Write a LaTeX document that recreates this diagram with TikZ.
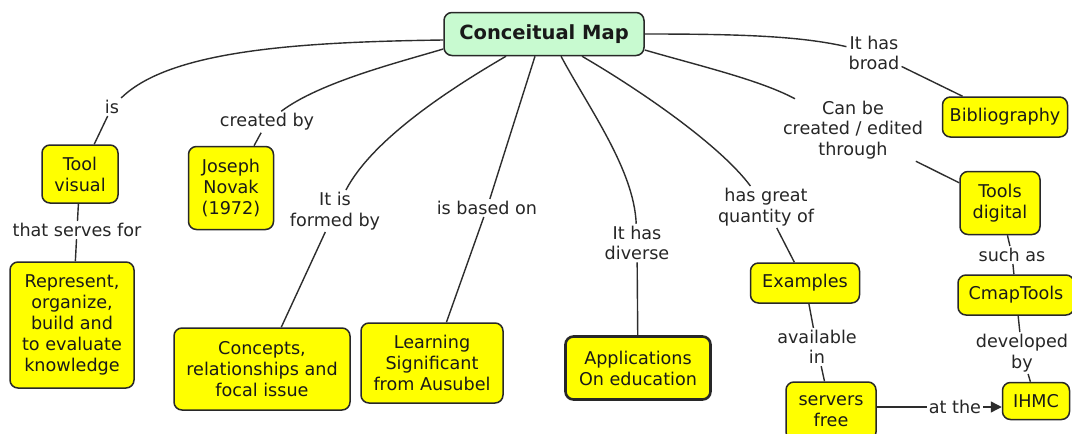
\documentclass[tikz,border=0pt]{standalone}
\usepackage{fontspec}
\setmainfont{DejaVu Sans}
\usetikzlibrary{arrows.meta}
\definecolor{conceptyellow}{RGB}{255,255,0}
\definecolor{rootgreen}{RGB}{200,250,208}
\definecolor{inkgray}{RGB}{40,40,40}
\definecolor{wiregray}{RGB}{45,45,45}

\begin{document}
\begin{tikzpicture}[x=1pt,y=1pt,
  concept/.style={draw=inkgray, line width=1.5pt, rounded corners=8pt, fill=conceptyellow,
    align=center, font=\fontsize{17.6}{21}\selectfont, text=black!90, inner sep=0pt},
  rootbox/.style={concept, fill=rootgreen, font=\fontsize{19.5}{22}\selectfont\bfseries},
  linkword/.style={align=center, font=\fontsize{17.6}{20.5}\selectfont, text=black!85, inner sep=2pt},
  wire/.style={draw=wiregray, line width=1.4pt},
]
\useasboundingbox (0,0) rectangle (1072,-434);
\fill[white] (0,0) rectangle (1072,-434);

% concepts
\node[rootbox, minimum width=200, minimum height=43] (main) at (544,-34) {Conceitual Map};
\node[concept, minimum width=76, minimum height=58] (tool) at (80,-174) {Tool\\visual};
\node[concept, minimum width=85, minimum height=83] (novak) at (231,-188) {Joseph\\Novak\\(1972)};
\node[concept, minimum width=124, minimum height=126] (represent) at (72,-325) {Represent,\\organize,\\build and\\to evaluate\\knowledge};
\node[concept, minimum width=176, minimum height=82] (concepts) at (262,-369) {Concepts,\\relationships and\\focal issue};
\node[concept, minimum width=142, minimum height=80] (ausubel) at (432,-363) {Learning\\Significant\\from Ausubel};
\node[concept, line width=2.6pt, minimum width=145, minimum height=63] (apps) at (638,-368) {Applications\\On education};
\node[concept, minimum width=109, minimum height=40] (examples) at (805,-283) {Examples};
\node[concept, minimum width=90, minimum height=58] (servers) at (831,-411) {servers\\free};
\node[concept, minimum width=67, minimum height=37] (ihmc) at (1036,-401) {IHMC};
\node[concept, minimum width=116, minimum height=40] (cmap) at (1016,-295) {CmapTools};
\node[concept, minimum width=80, minimum height=63] (digital) at (1000,-203) {Tools\\digital};
\node[concept, minimum width=125, minimum height=40] (biblio) at (1005,-117) {Bibliography};

% linking phrases
\node[linkword] (lIs) at (112,-107) {is};
\node[linkword] (lCreated) at (267,-122) {created by};
\node[linkword] (lFormed) at (335,-211) {It is\\formed by};
\node[linkword] (lBased) at (487,-208) {is based on};
\node[linkword] (lDiverse) at (637,-243) {It has\\diverse};
\node[linkword] (lGreat) at (766,-207) {has great\\quantity of};
\node[linkword] (lCan) at (853,-130) {Can be\\created / edited\\through};
\node[linkword] (lBroad) at (874,-53) {It has\\broad};
\node[linkword] (lServes) at (77,-230) {that serves for};
\node[linkword] (lSuch) at (1012,-255) {such as};
\node[linkword] (lAvail) at (817,-347) {available\\in};
\node[linkword] (lDev) at (1022,-353) {developed\\by};
\node[linkword] (lAt) at (955,-407) {at the};

% connections
\draw[wire] ([yshift=-6pt]main.west) .. controls (300,-42) and (170,-50) .. (lIs);
\draw[wire] (lIs) -- (tool);
\draw[wire] ([yshift=-15pt]main.west) .. controls (400,-62) and (320,-82) .. (lCreated);
\draw[wire] (lCreated) -- (novak);
\draw[wire] ([xshift=-38pt]main.south) .. controls (448,-90) and (372,-140) .. (lFormed);
\draw[wire] (lFormed) -- (concepts);
\draw[wire] ([xshift=-9pt]main.south) -- (lBased);
\draw[wire] (lBased) -- (ausubel);
\draw[wire] ([xshift=17pt]main.south) .. controls (590,-110) and (634,-170) .. (lDiverse);
\draw[wire] (lDiverse) -- (apps);
\draw[wire] ([xshift=38pt]main.south) .. controls (640,-90) and (720,-145) .. (lGreat);
\draw[wire] (lGreat) -- (examples);
\draw[wire] ([yshift=-16pt]main.east) .. controls (700,-66) and (760,-80) .. (lCan);
\draw[wire] (lCan) -- (digital);
\draw[wire] (main.east) .. controls (740,-34) and (800,-36) .. (lBroad);
\draw[wire] (lBroad) -- (biblio);
\draw[wire] (tool) -- (lServes);
\draw[wire] (lServes) -- (represent);
\draw[wire] (digital) -- (lSuch);
\draw[wire] (lSuch) -- (cmap);
\draw[wire] (cmap) -- (lDev);
\draw[wire] (lDev) -- (ihmc);
\draw[wire] (examples) -- (lAvail);
\draw[wire] (lAvail) -- (servers);
\draw[wire] (servers.east |- lAt) -- (lAt);
\draw[wire, -{Triangle[length=11pt,width=11pt]}] (lAt) -- (lAt -| ihmc.west);
\end{tikzpicture}
\end{document}
